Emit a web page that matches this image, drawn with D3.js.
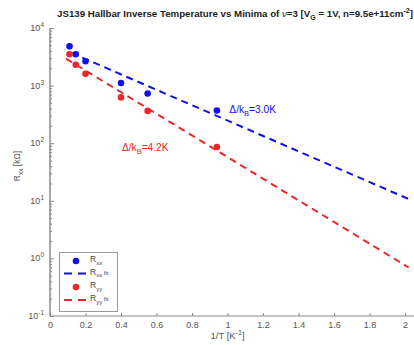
<!DOCTYPE html>
<html lang="en">
<head>
<meta charset="utf-8">
<title>JS139 Hallbar inverse temperature</title>
<script src="https://cdn.jsdelivr.net/npm/d3@7/dist/d3.min.js"></script>
<style>
  body { margin: 0; background: #fff; }
  text { font-family: "Liberation Sans", Arial, sans-serif; }
</style>
</head>
<body>
<div id="chart"></div>
<script>
// data
var invT = [0.11, 0.145, 0.2, 0.4, 0.55, 0.94];      // 1/T [K^-1]
var rxx  = [4800, 3500, 2640, 1110, 730, 369];       // R_xx [kOhm]
var ryy  = [3500, 2300, 1600, 624, 364, 86];         // R_yy [kOhm]
// fit line end points (straight lines on the log axis)
var rxxFitX = [0.12, 2.03], rxxFitY = [3700, 10.4];
var ryyFitX = [0.09, 2.02], ryyFitY = [2940, 0.695];
var xTicks = [0, 0.2, 0.4, 0.6, 0.8, 1, 1.2, 1.4, 1.6, 1.8, 2];
var xTickLabels = ["0", "0.2", "0.4", "0.6", "0.8", "1", "1.2", "1.4", "1.6", "1.8", "2"];
var yExps = [-1, 0, 1, 2, 3, 4];

var w = 414, h = 345;
var pL = 50, pR = 414, pT = 28, pB = 316;
var blue = "#1010e8", red = "#e8272b";
var axisCol = "#8a8a8a", labCol = "#555";

var svg = d3.select("#chart").append("svg")
  .attr("width", w).attr("height", h);

var x = d3.scaleLinear().domain([0, 2.05]).range([pL, pR]);
var y = d3.scaleLog().domain([0.1, 10000]).range([pB, pT]);

// minor ticks on the log axis
var minor = [];
yExps.slice(0, -1).forEach(function(e) {
  for (var k = 2; k < 10; k++) minor.push(k * Math.pow(10, e));
});

var gy = svg.append("g").attr("transform", "translate(" + pL + ",0)");
gy.call(d3.axisLeft(y).tickValues(minor).tickSize(-2).tickFormat(""));
gy.append("g").call(d3.axisLeft(y).tickValues(yExps.map(function(e){ return Math.pow(10, e); }))
  .tickSize(-4).tickFormat(""));
gy.selectAll("path, line").attr("stroke", axisCol);
gy.selectAll("path.domain").attr("d", "M0," + pT + "V" + pB);

// y tick labels with superscripts
yExps.forEach(function(e) {
  var t = svg.append("text")
    .attr("x", pL - 6).attr("y", y(Math.pow(10, e)) + 3)
    .attr("text-anchor", "end").attr("fill", labCol).attr("font-size", 9);
  t.append("tspan").text("10");
  t.append("tspan").attr("dy", -4).attr("font-size", 6.5).text(e);
});

var gx = svg.append("g").attr("transform", "translate(0," + pB + ")");
gx.call(d3.axisBottom(x).tickValues(xTicks).tickSize(-3).tickPadding(6)
  .tickFormat(function(d, i) { return xTickLabels[i]; }));
gx.selectAll("path, line").attr("stroke", axisCol);
gx.selectAll("path.domain").attr("d", "M" + pL + ",0H" + pR);
gx.selectAll("text").attr("fill", labCol).attr("font-size", 9)
  .attr("font-family", "Liberation Sans, Arial, sans-serif");

// fit lines
var line = d3.line().x(function(d){ return x(d[0]); }).y(function(d){ return y(d[1]); });
svg.append("path").datum(d3.zip(ryyFitX, ryyFitY)).attr("d", line)
  .attr("fill", "none").attr("stroke", red).attr("stroke-width", 2).attr("stroke-dasharray", "7,5");
svg.append("path").datum(d3.zip(rxxFitX, rxxFitY)).attr("d", line)
  .attr("fill", "none").attr("stroke", blue).attr("stroke-width", 2).attr("stroke-dasharray", "7,5");

// data points
svg.selectAll("circle.xx").data(d3.zip(invT, rxx)).enter().append("circle")
  .attr("class", "xx").attr("cx", function(d){ return x(d[0]); }).attr("cy", function(d){ return y(d[1]); })
  .attr("r", 3.3).attr("fill", blue);
svg.selectAll("circle.yy").data(d3.zip(invT, ryy)).enter().append("circle")
  .attr("class", "yy").attr("cx", function(d){ return x(d[0]); }).attr("cy", function(d){ return y(d[1]); })
  .attr("r", 3.3).attr("fill", red);

// gap annotations
function gapLabel(xv, yv, val, col) {
  var t = svg.append("text").attr("x", x(xv)).attr("y", y(yv))
    .attr("fill", col).attr("font-size", 10.2);
  t.append("tspan").text("\u0394/k");
  t.append("tspan").attr("dy", 3).attr("font-size", 7.5).text("B");
  t.append("tspan").attr("dy", -3).text("=" + val + "K");
}
gapLabel(1.01, 336, "3.0", blue);
gapLabel(0.405, 73, "4.2", red);

// title
var title = svg.append("text").attr("x", 235).attr("y", 17)
  .attr("text-anchor", "middle").attr("font-size", 9.7).attr("font-weight", "bold").attr("fill", "#222");
title.append("tspan").text("JS139 Hallbar Inverse Temperature vs Minima of ");
title.append("tspan").attr("font-style", "italic").attr("font-weight", "normal").text("\u03bd");
title.append("tspan").text("=3 [V");
title.append("tspan").attr("dy", 2.5).attr("font-size", 7).text("G");
title.append("tspan").attr("dy", -2.5).text(" = 1V, n=9.5e+11cm");
title.append("tspan").attr("dy", -4).attr("font-size", 7).text("-2");
title.append("tspan").attr("dy", 4).text("]");

// axis labels
var yl = svg.append("text").attr("transform", "translate(20,166) rotate(-90)")
  .attr("text-anchor", "middle").attr("font-size", 8.5).attr("fill", labCol);
yl.append("tspan").text("R");
yl.append("tspan").attr("dy", 2.5).attr("font-size", 6.5).text("xx");
yl.append("tspan").attr("dy", -2.5).text(" [k\u03a9]");

var xl = svg.append("text").attr("x", x(1)).attr("y", 339)
  .attr("text-anchor", "middle").attr("font-size", 9.5).attr("fill", labCol);
xl.append("tspan").text("1/T [K");
xl.append("tspan").attr("dy", -4).attr("font-size", 7).text("-1");
xl.append("tspan").attr("dy", 4).text("]");

// legend
var lg = svg.append("g");
lg.append("rect").attr("x", 59.5).attr("y", 252.5).attr("width", 58).attr("height", 59)
  .attr("fill", "#fff").attr("stroke", "#999").attr("stroke-width", 1);
var items = [
  { kind: "dot", col: blue, sub: "xx", fit: false },
  { kind: "dash", col: blue, sub: "xx", fit: true },
  { kind: "dot", col: red, sub: "yy", fit: false },
  { kind: "dash", col: red, sub: "yy", fit: true }
];
var rowY = [261, 273.5, 287, 300];
items.forEach(function(it, i) {
  var yy = rowY[i];
  if (it.kind === "dot") {
    lg.append("circle").attr("cx", 76).attr("cy", yy).attr("r", 3.3).attr("fill", it.col);
  } else {
    lg.append("line").attr("x1", 64).attr("x2", 86).attr("y1", yy).attr("y2", yy)
      .attr("stroke", it.col).attr("stroke-width", 2).attr("stroke-dasharray", "8,6");
  }
  var t = lg.append("text").attr("x", 90).attr("y", yy + 1).attr("font-size", 8.5).attr("fill", "#444");
  t.append("tspan").text("R");
  t.append("tspan").attr("dy", 2.5).attr("font-size", 6).text(it.sub);
  if (it.fit) t.append("tspan").attr("dy", -2.5).attr("font-size", 6).text(" fit");
});
</script>
</body>
</html>
